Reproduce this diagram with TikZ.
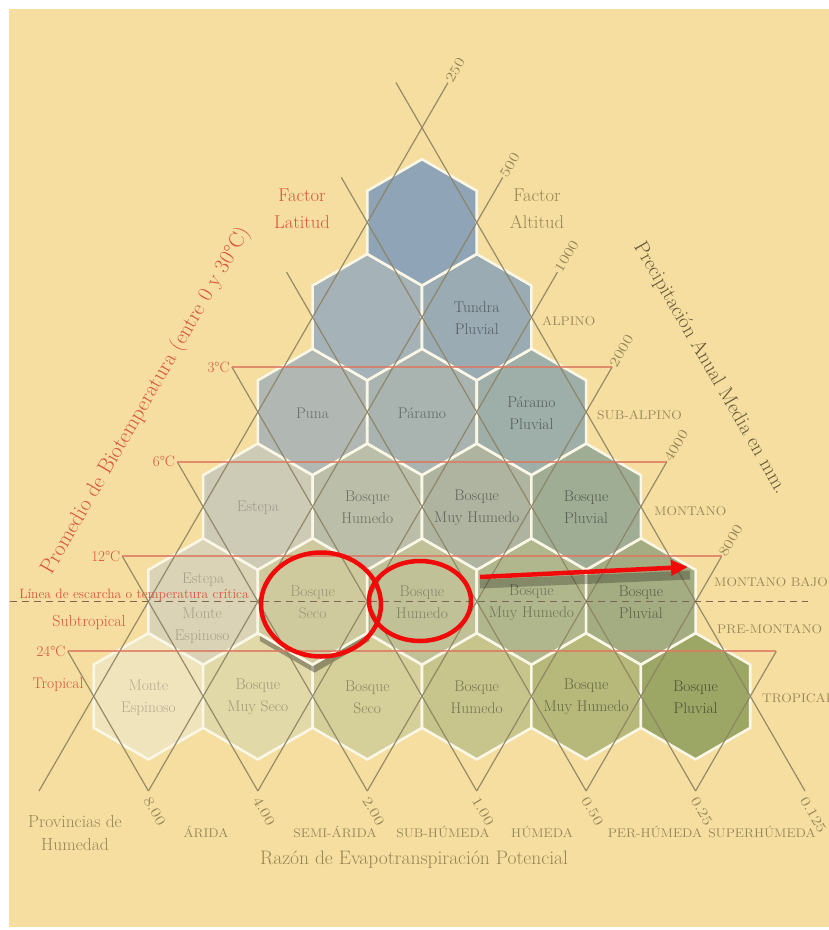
\documentclass[tikz,border=0pt]{standalone}
\usetikzlibrary{arrows.meta,calc}
\definecolor{bgc}{HTML}{F5DE9F}
\definecolor{gridc}{HTML}{8C8262}
\definecolor{tempc}{HTML}{DC7860}
\definecolor{redt}{HTML}{D9553B}
\definecolor{olt}{HTML}{968556}
\definecolor{dkt}{HTML}{65583A}
\definecolor{hexedge}{HTML}{FBF7E6}
\definecolor{dashc}{HTML}{7E6656}
\definecolor{markred}{HTML}{F00A0A}
\definecolor{c11}{HTML}{F0E4BD}
\definecolor{c12}{HTML}{E2D9A9}
\definecolor{c13}{HTML}{D5CF99}
\definecolor{c14}{HTML}{C7C58B}
\definecolor{c15}{HTML}{B6B97A}
\definecolor{c16}{HTML}{9DA765}
\definecolor{c21}{HTML}{DAD3B6}
\definecolor{c22}{HTML}{CFCA9D}
\definecolor{c23}{HTML}{C1C197}
\definecolor{c24}{HTML}{B1B78C}
\definecolor{c25}{HTML}{A4AD82}
\definecolor{c31}{HTML}{CDCAB6}
\definecolor{c32}{HTML}{BBBEA9}
\definecolor{c33}{HTML}{AEB4A0}
\definecolor{c34}{HTML}{A0AD95}
\definecolor{c41}{HTML}{B1B8B3}
\definecolor{c42}{HTML}{A9B3B0}
\definecolor{c43}{HTML}{9EAEA8}
\definecolor{c51}{HTML}{A5B2B8}
\definecolor{c52}{HTML}{9AABB3}
\definecolor{c61}{HTML}{8FA4B6}
\begin{document}
\begin{tikzpicture}[x=1pt,y=-1pt,
  gridline/.style={draw=gridc,line width=1.2pt,opacity=0.9},
  templine/.style={draw=tempc,line width=2pt,opacity=0.8},
  hexshape/.style={draw=hexedge,line width=2.6pt,line join=miter},
  celltext/.style={align=center,inner sep=0pt,font=\fontsize{15.5}{22}\selectfont},
  redlbl/.style={text=redt,inner sep=1pt},
  olvlbl/.style={text=olt,inner sep=1pt},
  capslbl/.style={text=olt,inner sep=1pt,font=\fontsize{12.5}{12.5}\selectfont},
  numlbl/.style={text=olt,inner sep=1pt,font=\fontsize{14}{14}\selectfont},
  markline/.style={draw=markred,line width=4.5pt}
]
\def\s{109.43}\def\H{94.77}\def\R{63.18}\def\w{54.71}\def\hh{31.59}
\fill[white] (0,0) rectangle (829,930);
\fill[bgc] (9,9) rectangle (829,927);
\useasboundingbox (0,0) rectangle (829,930);

% hexagons
\foreach \m/\j/\col in {1/1/c11,1/2/c12,1/3/c13,1/4/c14,1/5/c15,1/6/c16,
  2/1/c21,2/2/c22,2/3/c23,2/4/c24,2/5/c25,3/1/c31,3/2/c32,3/3/c33,3/4/c34,
  4/1/c41,4/2/c42,4/3/c43,5/1/c51,5/2/c52,6/1/c61}{
  \pgfmathsetmacro\cx{39+\s*(\j+(\m-1)/2)}
  \pgfmathsetmacro\cy{791-\m*\H}
  \coordinate (c\m\j) at (\cx,\cy);
  \filldraw[hexshape,fill=\col] (\cx,\cy-\R) -- ++(\w,\hh) -- ++(0,2*\hh) -- ++(-\w,\hh) -- ++(-\w,-\hh) -- ++(0,-2*\hh) -- cycle;
}
% highlighted cell with shadow
\fill[black,opacity=0.32] ($(c22)+(2,8)$) ++(0,-\R) -- ++(\w,\hh) -- ++(0,2*\hh) -- ++(-\w,\hh) -- ++(-\w,-\hh) -- ++(0,-2*\hh) -- cycle;
\filldraw[hexshape,fill=c22] (c22) ++(0,-\R) -- ++(\w,\hh) -- ++(0,2*\hh) -- ++(-\w,\hh) -- ++(-\w,-\hh) -- ++(0,-2*\hh) -- cycle;

% lattice lines
\foreach \k in {0,...,7}{\coordinate (B\k) at ({39+\s*\k},791);}
\foreach \k in {0,...,6}{\coordinate (LT\k) at ({39+\s*(\k+7)/2+26},{791-(7-\k)*\H-45});}
\foreach \k in {1,...,7}{\coordinate (RT\k) at ({39+\s*\k/2-26},{791-\k*\H-45});}
\foreach \k in {0,...,6}{\draw[gridline] (B\k) -- (LT\k);}
\foreach \k in {1,...,7}{\draw[gridline] (B\k) -- (RT\k);}

% temperature lines
\draw[templine] (RT4) -- (LT3);
\draw[templine] (RT3) -- (LT4);
\draw[templine] (RT2) -- (LT5);
\draw[templine] (RT1) -- (LT6);
\node[redlbl,anchor=east,font=\fontsize{15}{15}\selectfont] (t3) at ($(RT4)+(-1,0)$) {3°C};
\node[redlbl,anchor=east,font=\fontsize{15}{15}\selectfont] (t6) at ($(RT3)+(-1,0)$) {6°C};
\node[redlbl,anchor=east,font=\fontsize{15}{15}\selectfont] (t12) at ($(RT2)+(-1,0)$) {12°C};
\node[redlbl,anchor=east,font=\fontsize{15}{15}\selectfont] (t24) at ($(RT1)+(-1,0)$) {24°C};

% frost line
\coordinate (DL) at (10,601.5);
\coordinate (DR) at (808,601.5);
\draw[draw=dashc,line width=1.4pt,dash pattern=on 7pt off 5pt] (DL) -- (DR);

% cell texts
\foreach \m/\j/\txt/\p in {1/1/{Monte\\Espinoso}/75,1/2/{Bosque\\Muy Seco}/70,1/3/{Bosque\\Seco}/64,
  1/4/{Bosque\\Humedo}/58,1/5/{Bosque\\Muy Humedo}/55,1/6/{Bosque\\Pluvial}/48,
  2/2/{Bosque\\Seco}/74,2/3/{Bosque\\Humedo}/68,2/4/{Bosque\\Muy Humedo}/62,2/5/{Bosque\\Pluvial}/55,
  3/1/{Estepa}/76,3/2/{Bosque\\Humedo}/58,3/3/{Bosque\\Muy Humedo}/55,3/4/{Bosque\\Pluvial}/52,
  4/1/{Puna}/60,4/2/{Páramo}/57,4/3/{Páramo\\Pluvial}/54,5/2/{Tundra\\Pluvial}/54}{
  \node[celltext,text=c\m\j!\p!black] (tx\m\j) at ($(c\m\j)+(0,1)$) {\txt};
}
\node[celltext,text=c21!76!black] (tx21a) at ($(c21)+(0,-22)$) {Estepa};
\node[celltext,text=c21!76!black] (tx21b) at ($(c21)+(-1,24)$) {Monte\\Espinoso};

% top numbers (precipitation)
\foreach \k/\lbl in {0/250,1/500,2/1000,3/2000,4/4000,5/8000}{
  \node[numlbl,rotate=60,anchor=west] (pp\k) at (LT\k) {\scalebox{1.25}[1]{\lbl}};
}
% bottom numbers (PET ratio)
\foreach \k/\lbl in {1/8.00,2/4.00,3/2.00,4/1.00,5/0.50,6/0.25,7/0.125}{
  \node[numlbl,rotate=-60,anchor=west] (ee\k) at ($(B\k)+(-2,6)$) {\scalebox{1.25}[1]{\lbl}};
}

% altitudinal belts
\node[capslbl,anchor=west] (alp) at (541,321) {\scalebox{1.1}[1]{ALPINO}};
\node[capslbl,anchor=west] (salp) at (596,415) {\scalebox{1.1}[1]{SUB-ALPINO}};
\node[capslbl,anchor=west] (mont) at (653,511) {\scalebox{1.1}[1]{MONTANO}};
\node[capslbl,anchor=west] (montb) at (713,582) {\scalebox{1.1}[1]{MONTANO BAJO}};
\node[capslbl,anchor=west] (premont) at (716,629) {\scalebox{1.1}[1]{PRE-MONTANO}};
\node[capslbl,anchor=west] (tropb) at (761,698) {\scalebox{1.1}[1]{TROPICAL}};

% humidity provinces
\node[capslbl] (hp1) at (206,832) {\scalebox{1.1}[1]{ÁRIDA}};
\node[capslbl] (hp2) at (335,832) {\scalebox{1.1}[1]{SEMI-ÁRIDA}};
\node[capslbl] (hp3) at (443,832) {\scalebox{1.1}[1]{SUB-HÚMEDA}};
\node[capslbl] (hp4) at (542,832) {\scalebox{1.1}[1]{HÚMEDA}};
\node[capslbl] (hp5) at (655,832) {\scalebox{1.1}[1]{PER-HÚMEDA}};
\node[capslbl] (hp6) at (762,832) {\scalebox{1.1}[1]{SUPERHÚMEDA}};

% titles
\node[redlbl,align=center,font=\fontsize{18.5}{27}\selectfont] (flat) at (302,209) {Factor\\Latitud};
\node[olvlbl,align=center,font=\fontsize{18.5}{27}\selectfont] (falt) at (537,209) {Factor\\Altitud};
\node[redlbl,rotate=60,font=\fontsize{21.5}{21.5}\selectfont] (prom) at (146,401) {Promedio de Biotemperatura (entre 0 y 30°C)};
\node[text=dkt,inner sep=1pt,rotate=-60,font=\fontsize{20.5}{20.5}\selectfont] (prec) at (710,368) {Precipitación Anual Media en mm.};
\node[redlbl,font=\fontsize{13.5}{13.5}\selectfont] (lesc) at (134,595) {Línea de escarcha o temperatura crítica};
\node[redlbl,font=\fontsize{16}{16}\selectfont] (subt) at (89,622) {Subtropical};
\node[redlbl,font=\fontsize{15.5}{15.5}\selectfont] (trop) at (58,685) {Tropical};
\node[olvlbl,align=center,font=\fontsize{17.5}{23}\selectfont] (prov) at (75,833) {Provincias de\\Humedad};
\node[olvlbl,font=\fontsize{19.5}{19.5}\selectfont] (razon) at (414,860) {Razón de Evapotranspiración Potencial};

% red annotations
\draw[markline] (321,604.5) ellipse [x radius=60, y radius=52];
\draw[markline] (420,601) ellipse [x radius=51, y radius=40];
\coordinate (AS) at (480,577);
\coordinate (AE) at (688,567);
\draw[black,opacity=0.25,line width=9pt] ($(AS)+(0,7)$) -- ($(AE)+(2,8)$);
\draw[markline,-{Triangle[length=17pt,width=15pt]}] (AS) -- (AE);
\end{tikzpicture}
\end{document}
